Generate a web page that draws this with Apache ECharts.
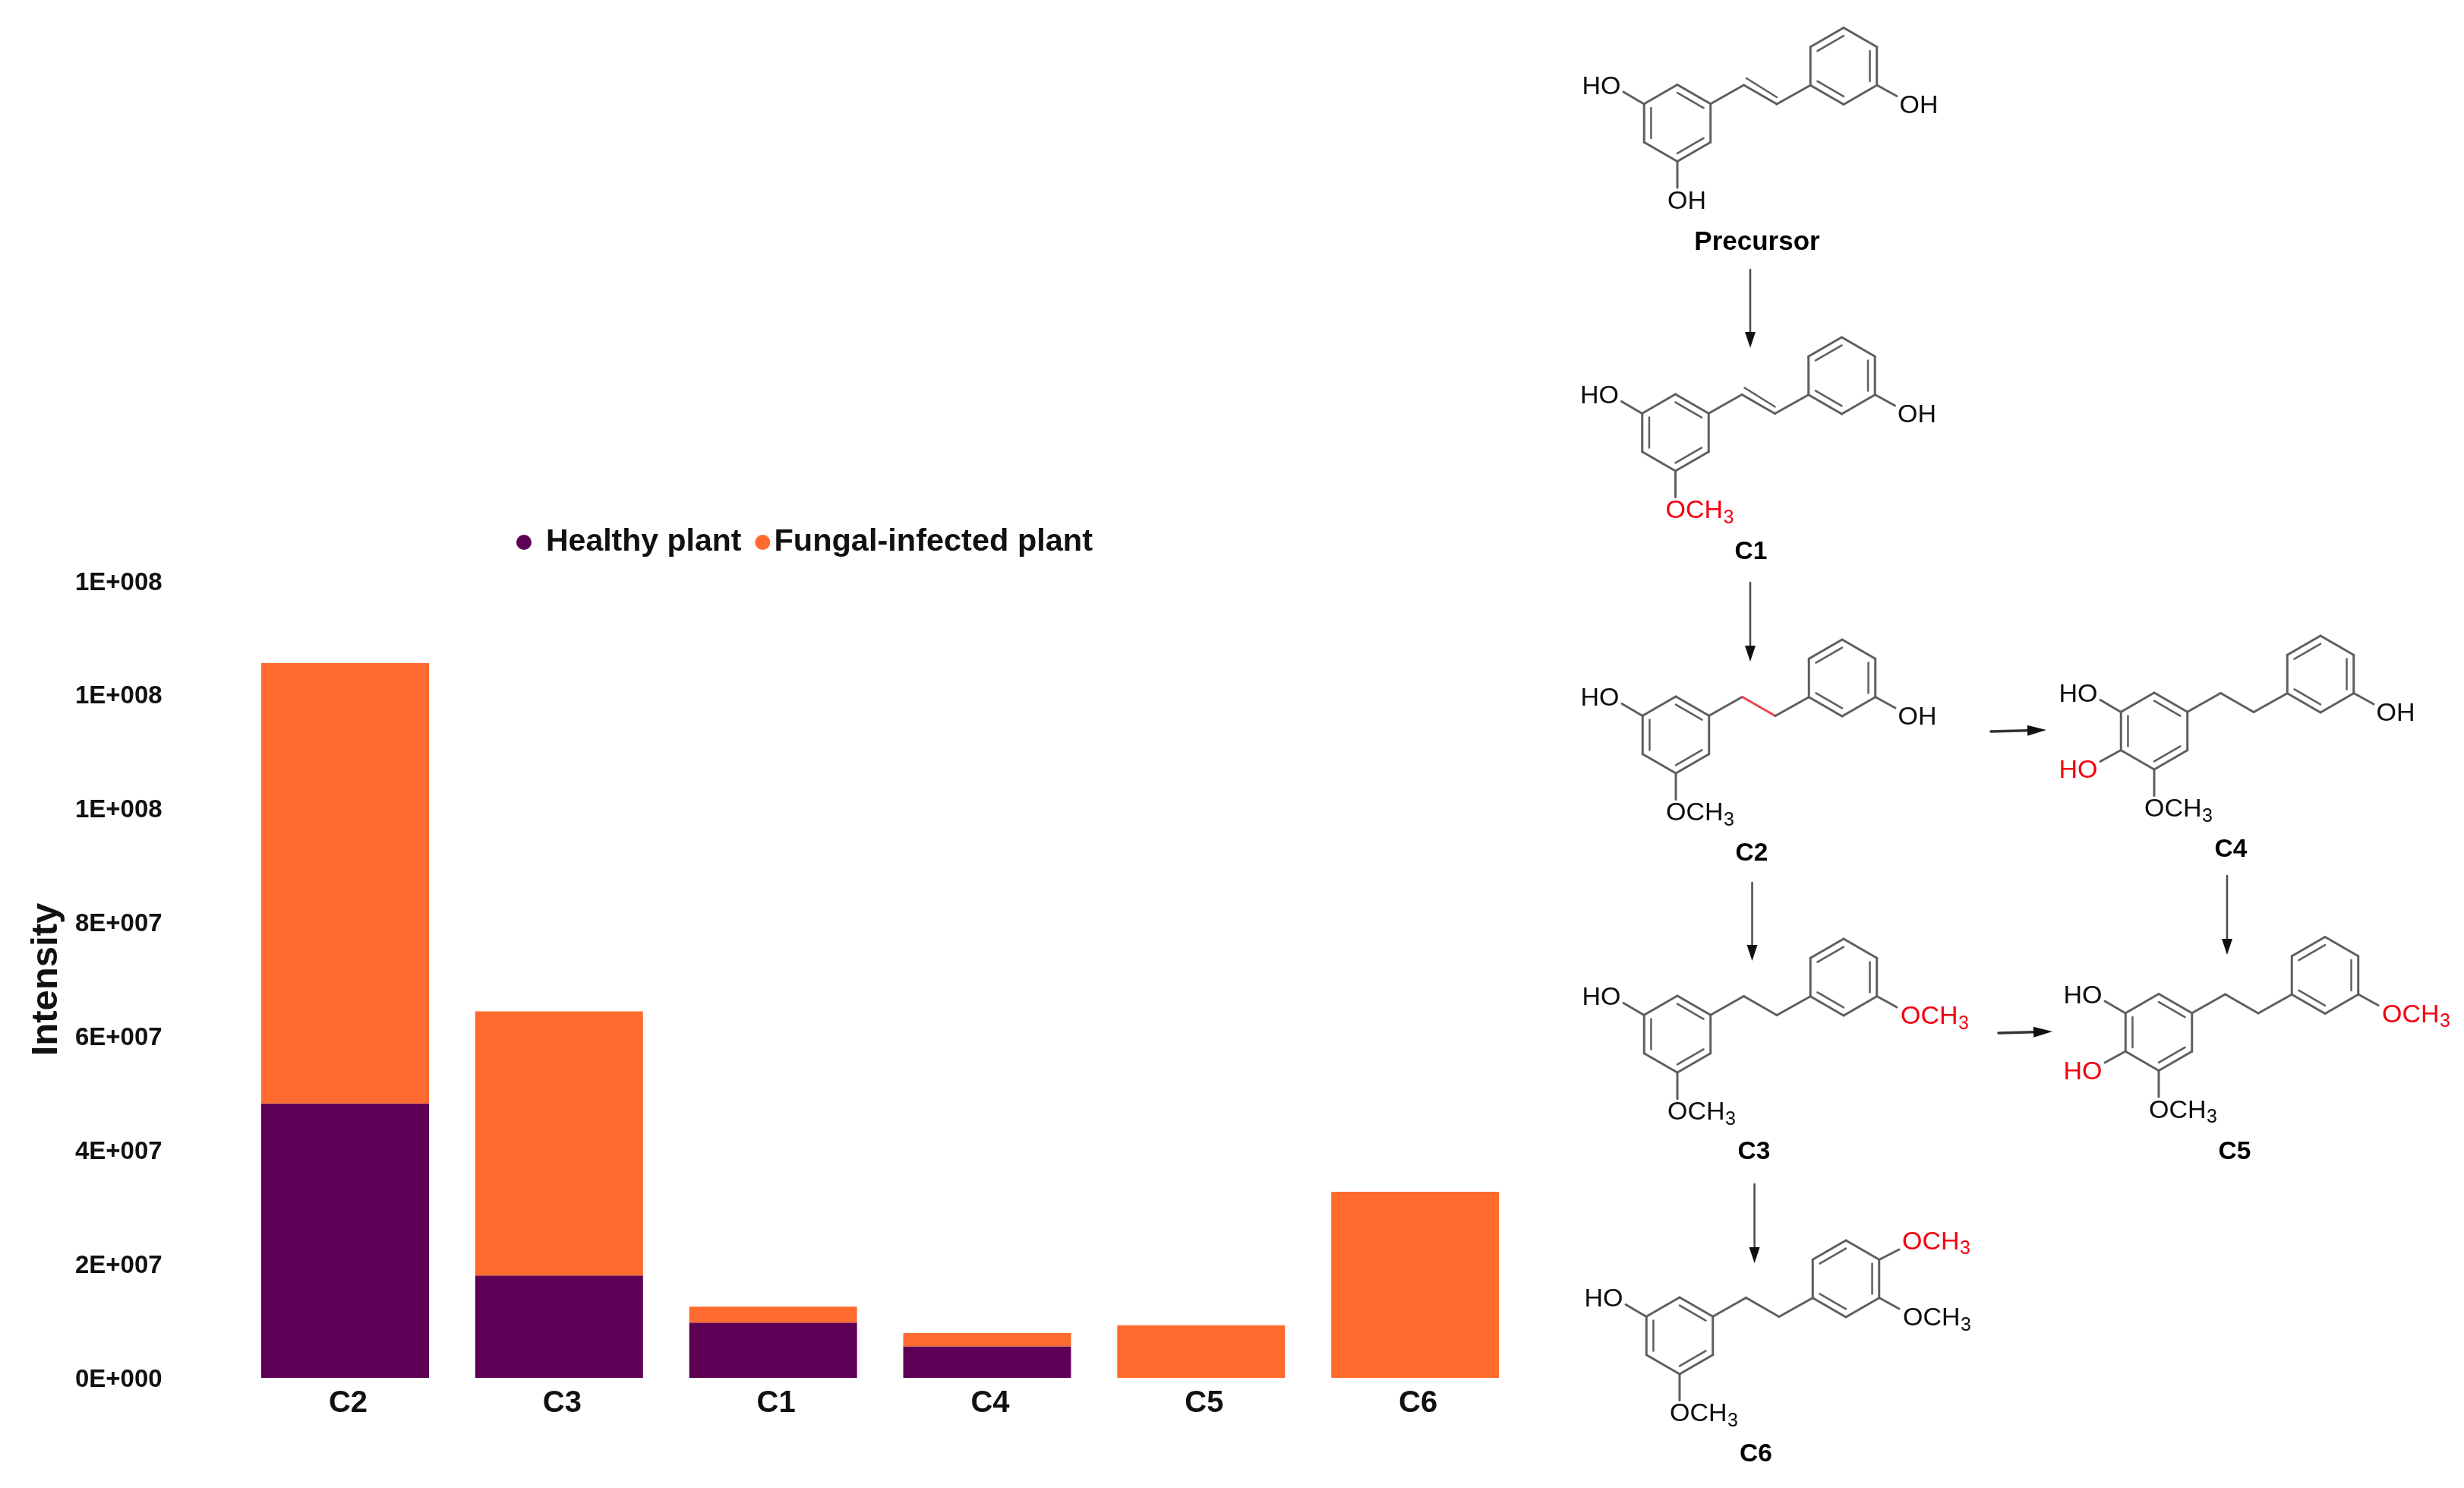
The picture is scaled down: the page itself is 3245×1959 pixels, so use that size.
<!DOCTYPE html>
<html>
<head>
<meta charset="utf-8">
<style>html,body{margin:0;padding:0;background:#fff}#chart{width:3245px;height:1959px}</style>
<script src="https://cdn.jsdelivr.net/npm/echarts@6/dist/echarts.min.js"></script>
</head>
<body>
<div id="chart"></div>
<script>
// ---- chart data ----
const categories = ['C2', 'C3', 'C1', 'C4', 'C5', 'C6'];
const healthyPlant = [4.82e7, 1.80e7, 0.97e7, 0.554e7, 0, 0];
const fungalPlant = [7.74e7, 4.64e7, 0.28e7, 0.233e7, 0.925e7, 3.27e7];
const yTickLabels = ['0E+000', '2E+007', '4E+007', '6E+007', '8E+007', '1E+008', '1E+008', '1E+008'];
const seriesNames = ['Healthy plant', 'Fungal-infected plant'];
const yInterval = 2e7;

// ---- pathway diagram (right panel, pixel layout) ----
const compounds = [
  { name: 'Precursor', cx: 2209, cy: 162, tx: 2314, ty: 317, link: 'double', bottom: 'OH' },
  { name: 'C1', cx: 2206.5, cy: 569.5, tx: 2306, ty: 725, link: 'double', bottom: 'OCH3red' },
  { name: 'C2', cx: 2207, cy: 967.5, tx: 2307, ty: 1122, link: 'redSingle', bottom: 'OCH3' },
  { name: 'C3', cx: 2209, cy: 1361.5, tx: 2310, ty: 1515, link: 'single', bottom: 'OCH3', right: 'OCH3red' },
  { name: 'C4', cx: 2837, cy: 962.5, tx: 2938, ty: 1117, link: 'single', bottom: 'OCH3', redHO: true },
  { name: 'C5', cx: 2843, cy: 1359, tx: 2943, ty: 1515, link: 'single', bottom: 'OCH3', right: 'OCH3red', redHO: true },
  { name: 'C6', cx: 2212, cy: 1758.5, tx: 2312.5, ty: 1913, link: 'single', bottom: 'OCH3', right: 'OCH3', top: 'OCH3red' }
];
const arrows = [
  [2305, 355, 2305, 458], [2305, 767, 2305, 871], [2307.5, 1162, 2307.5, 1265],
  [2310.6, 1559, 2310.6, 1663], [2933, 1153, 2933, 1257],
  [2622, 963, 2695, 961], [2632, 1360, 2703, 1358]
];

const BOND = '#5f5f5f', INK = '#0d0d0d', RED = '#f5000f', REDBOND = '#ea4450';
const FONT = '"Liberation Sans", Arial, sans-serif';
const g = [];
function bond(x1, y1, x2, y2, color, w) {
  g.push({ type: 'line', silent: true, shape: { x1, y1, x2, y2 }, style: { stroke: color || BOND, lineWidth: w || 3, lineCap: 'round' } });
}
function text(t, x, y, size, fill, weight, align) {
  g.push({ type: 'text', silent: true, style: { text: t, x, y: y + 2.5, fill: fill || INK, textAlign: align || 'center', textVerticalAlign: 'middle',
    font: (weight || 'normal') + ' ' + size + 'px ' + FONT } });
}
function och3(x, y, fill) {
  text('OCH', x, y, 34, fill, 'normal', 'left');
  text('3', x + 76, y + 9, 25, fill, 'normal', 'left');
}
function ring(cx, cy) {
  const R = 50.5, v = [], inner = [];
  for (let i = 0; i < 6; i++) {
    const a = (-90 + 60 * i) * Math.PI / 180;
    v.push([cx + R * Math.cos(a), cy + R * Math.sin(a)]);
    inner.push([cx + 0.79 * R * Math.cos(a), cy + 0.79 * R * Math.sin(a)]);
  }
  for (let i = 0; i < 6; i++) { const j = (i + 1) % 6; bond(v[i][0], v[i][1], v[j][0], v[j][1]); }
  return { v, inner };
}
function drawCompound(c) {
  const { cx, cy } = c;
  const r1 = ring(cx, cy);
  [[0, 1], [2, 3], [4, 5]].forEach(([a, b]) => bond(r1.inner[a][0], r1.inner[a][1], r1.inner[b][0], r1.inner[b][1], BOND, 2.5));
  const r2 = ring(cx + 219, cy - 75);
  [[5, 0], [1, 2], [3, 4]].forEach(([a, b]) => bond(r2.inner[a][0], r2.inner[a][1], r2.inner[b][0], r2.inner[b][1], BOND, 2.5));
  // ethylene / ethenyl link
  const p1 = r1.v[1], A = [cx + 87.5, cy - 50], B = [cx + 131, cy - 25], p4 = r2.v[4];
  bond(p1[0], p1[1], A[0], A[1]);
  if (c.link === 'redSingle') bond(A[0], A[1], B[0], B[1], REDBOND); else bond(A[0], A[1], B[0], B[1]);
  bond(B[0], B[1], p4[0], p4[1]);
  if (c.link === 'double') bond(A[0] + 3.5, A[1] - 9, B[0], B[1] - 9, BOND, 2.5);
  // left hydroxyls
  bond(cx - 43.7, cy - 25, cx - 71, cy - 41);
  text('HO', cx - 100, cy - 50, 34);
  if (c.redHO) {
    bond(cx - 43.7, cy + 25, cx - 71, cy + 40);
    text('HO', cx - 100, cy + 50, 34, RED);
  }
  // bottom substituent
  bond(cx, cy + 50.5, cx, cy + 85);
  if (c.bottom === 'OH') text('OH', cx - 13, cy + 101, 34, INK, 'normal', 'left');
  else och3(cx - 13, cy + 101, c.bottom === 'OCH3red' ? RED : INK);
  // right ring substituents
  bond(cx + 262.7, cy - 50, cx + 289, cy - 35.5);
  if (!c.right) text('OH', cx + 318, cy - 25, 34);
  else och3(cx + 294, cy - 25, c.right === 'OCH3red' ? RED : INK);
  if (c.top) {
    bond(cx + 262.7, cy - 100, cx + 289, cy - 113.5);
    och3(cx + 293, cy - 125.5, RED);
  }
  text(c.name, c.tx, c.ty - 0.5, c.name === 'Precursor' ? 35 : 33.5, '#000', 'bold');
}
function drawArrow(a) {
  const [x1, y1, x2, y2] = a, dx = x2 - x1, dy = y2 - y1, L = Math.hypot(dx, dy), ux = dx / L, uy = dy / L;
  const horiz = Math.abs(dx) > Math.abs(dy), hl = horiz ? 25 : 21, hw = 7;
  bond(x1, y1, x2 - ux * hl, y2 - uy * hl, horiz ? '#333' : '#4a4a4a', horiz ? 3.5 : 2.5);
  const bx = x2 - ux * hl, by = y2 - uy * hl;
  g.push({ type: 'polygon', silent: true, shape: { points: [[x2, y2], [bx - uy * hw, by + ux * hw], [bx + uy * hw, by - ux * hw]] }, style: { fill: '#111' } });
}
compounds.forEach(drawCompound);
arrows.forEach(drawArrow);

// ---- ECharts ----
const chart = echarts.init(document.getElementById('chart'), null, { renderer: 'canvas' });
chart.setOption({
  animation: false,
  backgroundColor: '#fff',
  textStyle: { fontFamily: FONT },
  legend: {
    left: 675, top: 688, icon: 'circle', itemWidth: 20, itemHeight: 20, itemGap: 18,
    selectedMode: false,
    textStyle: { fontFamily: FONT, fontSize: 41, fontWeight: 'bold', color: '#111' },
    data: [
      { name: seriesNames[0], textStyle: { padding: [0, 0, 0, 14] } },
      { name: seriesNames[1], textStyle: { padding: 0, fontSize: 41.5 } }
    ]
  },
  grid: { left: 313.6, width: 1691, top: 765, height: 1049, containLabel: false },
  xAxis: {
    type: 'category', data: categories,
    axisLine: { show: false }, axisTick: { show: false },
    axisLabel: { fontFamily: FONT, fontSize: 40, fontWeight: 'bold', color: '#111', margin: 14, padding: [0, 0, 0, 8] }
  },
  yAxis: {
    type: 'value', min: 0, max: 1.4e8, interval: yInterval,
    name: 'Intensity', nameLocation: 'middle', nameGap: 228,
    nameTextStyle: { fontFamily: FONT, fontSize: 49, fontWeight: 'bold', color: '#111' },
    axisLine: { show: false }, axisTick: { show: false }, splitLine: { show: false },
    axisLabel: { fontFamily: FONT, fontSize: 33, fontWeight: 'bold', color: '#111', margin: 100,
      verticalAlign: 'top', padding: [-14, 0, 0, 0],
      formatter: v => yTickLabels[Math.round(v / yInterval)] }
  },
  series: [
    { name: seriesNames[0], type: 'bar', stack: 'total', data: healthyPlant, barCategoryGap: '21.6%', itemStyle: { color: '#5D0055' } },
    { name: seriesNames[1], type: 'bar', stack: 'total', data: fungalPlant, barCategoryGap: '21.6%', itemStyle: { color: '#FF6B2E' } }
  ],
  graphic: { elements: g }
});
</script>
</body>
</html>
